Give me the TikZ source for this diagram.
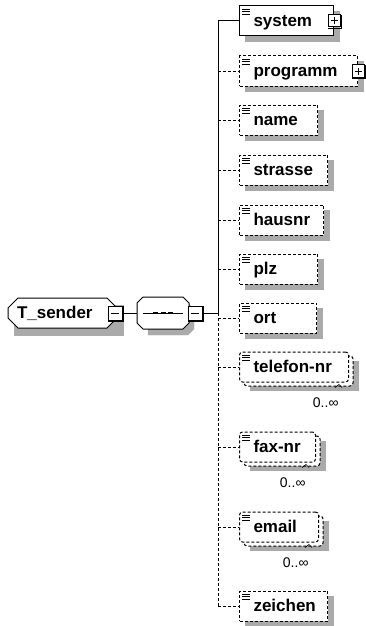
\documentclass[tikz,border=0pt]{standalone}
\usepackage{fontspec}
\setmainfont{Liberation Sans}
\usetikzlibrary{shapes.misc}
\definecolor{shadowgray}{RGB}{170,170,170}
\newcommand{\elemtext}[2]{\makebox[\dimexpr#1pt-28pt\relax][l]{#2}}
\tikzset{
  elfont/.style={font=\fontsize{17}{20}\selectfont\bfseries},
  elembox/.style={rectangle, draw=black, line width=1pt, fill=white, minimum height=30pt,
    inner xsep=0pt, inner ysep=0pt, anchor=west, text height=15pt, text depth=4pt, elfont},
  multi/.style={rounded corners=3pt},
  opt/.style={dash pattern=on 3pt off 2pt},
  ctype/.style={chamfered rectangle, chamfered rectangle xsep=5pt, chamfered rectangle ysep=5pt,
    draw=black, line width=1pt, fill=white, inner xsep=0pt, inner ysep=0pt,
    text height=15pt, text depth=4pt, elfont},
  pm/.style={rectangle, draw=black, fill=white, line width=1pt, inner sep=0pt},
  pmshade/.style={line width=1.6pt, line cap=rect},
  occ/.style={font=\fontsize{14}{16}\selectfont, inner sep=0pt},
  conn/.style={line width=1pt},
  shadowfill/.style={fill=shadowgray, draw=shadowgray, line width=0.1pt},
}
\begin{document}
\begin{tikzpicture}[x=1pt,y=-1pt, line width=1pt]
\useasboundingbox (0,0) rectangle (366,626);

% shadows (drawn first, under everything)
\path[shadowfill] (14,305) -- (123,305) -- (123,335) -- (14,335) -- cycle;
\path[shadowfill] (148,303) -- (188,303) -- (194,309) -- (194,329) -- (188,335) -- (148,335) -- cycle;
\foreach \y/\w in {21/94,71/118,120/78,170/88,220/84,269/78,318/77,606/88}{
  \path[shadowfill] (245,\y-10) rectangle (239+\w+6,\y+20);
}
\foreach \y/\w in {367/109,447/76,527/79}{
  \path[shadowfill] (250,\y-6) rectangle (239+\w+10,\y+23);
}

% root complex type
\node[ctype, minimum width=109pt, minimum height=30pt] (ts) at (62.5,313) {\makebox[91pt][l]{T\_sender}};

% sequence compositor
\node[ctype, chamfered rectangle xsep=6pt, chamfered rectangle ysep=6pt, minimum width=52pt, minimum height=32pt] (seq) at (163,313) {};
\draw[line width=0.8pt] ([xshift=-20pt]seq.center) -- ([xshift=20pt]seq.center);
\draw[line width=2.2pt, dash pattern=on 5pt off 2.5pt] ([xshift=-10pt]seq.center) -- ([xshift=10.5pt]seq.center);

% stacked back boxes of repeated elements
\foreach \y/\w in {367/109,447/76,527/79}{
  \draw[opt, fill=white, rounded corners=3pt] (244,\y-11) rectangle (239+\w+5,\y+19);
}

% elements
\node[elembox, minimum width=94pt] (sys) at (239,21) {\elemtext{94}{system}};
\node[elembox, opt, minimum width=118pt] (prog) at (239,71) {\elemtext{118}{programm}};
\node[elembox, opt, minimum width=78pt] (nam) at (239,120) {\elemtext{78}{name}};
\node[elembox, opt, minimum width=88pt] (str) at (239,170) {\elemtext{88}{strasse}};
\node[elembox, opt, minimum width=84pt] (hau) at (239,220) {\elemtext{84}{hausnr}};
\node[elembox, opt, minimum width=78pt] (plz) at (239,269) {\elemtext{78}{plz}};
\node[elembox, opt, minimum width=77pt] (ort) at (239,318) {\elemtext{77}{ort}};
\node[elembox, multi, opt, minimum width=109pt] (tel) at (239,367) {\elemtext{109}{telefon-nr}};
\node[elembox, multi, opt, minimum width=76pt] (fax) at (239,447) {\elemtext{76}{fax-nr}};
\node[elembox, multi, opt, minimum width=79pt] (ema) at (239,527) {\elemtext{79}{email}};
\node[elembox, opt, minimum width=88pt] (zei) at (239,606) {\elemtext{88}{zeichen}};

% collapse / expand boxes
\node[pm, minimum size=14pt] (tsm) at (115,313) {};
\draw[pmshade] ([shift={(1pt,-1pt)}]tsm.north east) -- ([shift={(1pt,-1pt)}]tsm.south east) -- ([shift={(1pt,-1pt)}]tsm.south west);
\draw ([xshift=-4pt]tsm.center) -- ([xshift=4pt]tsm.center);
\node[pm, minimum size=14pt] (sqm) at (195,313) {};
\draw[pmshade] ([shift={(1pt,-1pt)}]sqm.north east) -- ([shift={(1pt,-1pt)}]sqm.south east) -- ([shift={(1pt,-1pt)}]sqm.south west);
\draw ([xshift=-4pt]sqm.center) -- ([xshift=4pt]sqm.center);
\foreach \n in {sys,prog}{
  \node[pm, minimum size=12pt] (\n p) at (\n.east) {};
  \draw[pmshade] ([shift={(1pt,-1pt)}]\n p.north east) -- ([shift={(1pt,-1pt)}]\n p.south east) -- ([shift={(1pt,-1pt)}]\n p.south west);
  \draw ([xshift=-3.5pt]\n p.center) -- ([xshift=3.5pt]\n p.center);
  \draw ([yshift=-3.5pt]\n p.center) -- ([yshift=3.5pt]\n p.center);
}

% content icons
\foreach \n in {sys,prog,nam,str,hau,plz,ort,tel,fax,ema,zei}{
  \foreach \d in {3.5,6,8.5}{
    \draw[line width=0.9pt] ([shift={(3pt,-\d pt)}]\n.north west) -- ++(8pt,0pt);
  }
}

% connectors
\draw[conn] (tsm.east) -- (seq.west);
\coordinate (tr) at (218,313);
\draw[conn] (sqm.east) -- (tr);
\draw[conn] (tr |- sys.west) -- (tr);
\draw[conn, opt] (tr) -- (tr |- zei.west);
\draw[conn] (tr |- sys.west) -- (sys.west);
\foreach \n in {prog,nam,str,hau,plz,ort,tel,fax,ema,zei}{
  \draw[conn, opt] (tr |- \n.west) -- (\n.west);
}

% occurrence labels
\foreach \n in {tel,fax,ema}{
  \node[occ, anchor=east] (\n o) at ([shift={(-10pt,-20pt)}]\n.south east) {0..∞};
  \draw[line width=0.7pt] ([shift={(-14pt,-5pt)}]\n.south east) -- ++(4pt,3pt) -- ++(3pt,-3pt);
}
\end{tikzpicture}
\end{document}
